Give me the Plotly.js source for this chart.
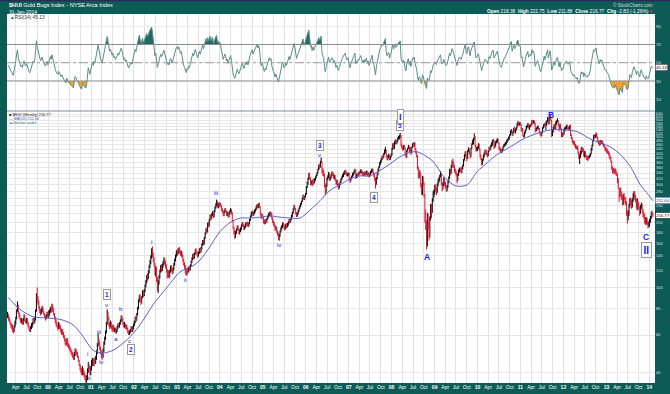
<!DOCTYPE html>
<html><head><meta charset="utf-8">
<script src="https://cdn.plot.ly/plotly-3.0.1.min.js"></script>
<style>html,body{margin:0;padding:0;background:#0d5b57;}#chart{width:670px;height:394px;}</style>
</head><body><div id="chart"></div>
<script>
// ---- data (weekly bars, Fridays from 22-Jan-1999 to 31-Jan-2014) ----
const firstWeek = '1999-01-22';
const weeklyClose = [
74,72,70,68,67,66,64,63,66,68,72,78,82,76,74,71,69,70,68,71,73,70,69,71,68,66,64,63,65,66,68,70,69,71,78,92,88,85,80,78,76,78,80,77,75,73,72,74,76,73,
75,77,80,78,82,79,76,72,70,68,66,65,67,66,64,62,63,61,59,57,56,55,57,54,53,52,51,50,49,48,47,49,51,50,49,48,46,44,42,41,40,42,40,39,38,37,38,41,44,42,40,42,
44,45,44,46,45,47,50,54,57,55,52,50,49,48,51,55,58,62,68,75,72,68,66,68,65,64,66,63,64,62,63,65,67,66,68,70,72,71,68,66,67,65,66,64,62,61,62,63,64,63,65,67,
69,72,71,75,80,86,90,88,85,90,95,92,96,101,105,112,110,118,125,130,138,146,142,134,128,118,123,110,100,106,112,118,125,121,126,131,135,130,126,120,114,117,113,119,124,121,117,122,128,134,140,146,
148,145,150,147,143,146,140,134,128,125,118,116,121,119,123,121,126,131,136,141,138,143,149,146,143,140,145,150,147,152,158,164,160,170,178,186,182,198,194,205,214,208,218,222,214,226,234,242,248,238,244,240,
245,238,230,226,218,224,230,226,218,222,214,220,226,230,222,205,190,182,176,180,186,192,186,180,184,188,194,198,195,188,192,198,195,200,194,198,206,214,220,224,218,222,226,230,236,240,236,242,238,220,212,216,214,
204,200,205,202,208,214,219,222,218,221,210,202,198,194,186,190,182,178,170,174,182,188,192,198,194,188,190,196,192,196,200,206,202,208,215,222,230,236,232,222,216,220,226,232,238,244,250,258,266,258,264,272,
292,305,320,335,322,305,310,300,315,308,318,325,332,340,352,368,362,384,392,350,345,335,300,280,296,320,326,340,318,324,332,340,336,325,330,318,305,312,302,292,300,310,318,325,332,338,345,348,340,332,336,338,
318,312,322,328,336,340,346,352,326,334,330,340,338,345,350,344,336,340,334,342,338,346,334,340,330,336,344,350,354,340,335,320,305,322,334,352,362,378,385,395,405,402,418,432,440,410,398,405,412,395,404,416,
440,462,448,472,480,470,478,492,500,505,510,460,448,440,452,445,418,405,432,440,455,430,445,420,448,462,458,468,440,425,410,360,330,345,340,300,280,320,305,270,210,200,160,215,195,182,210,240,225,255,272,280,
295,288,278,300,312,318,328,340,305,292,300,318,302,295,285,292,310,322,350,340,368,385,378,365,350,345,335,315,335,350,355,352,346,360,368,390,410,425,402,395,430,438,420,405,440,462,478,488,505,455,438,445,
448,462,440,410,398,375,392,410,418,432,426,418,412,430,445,438,455,468,478,482,455,462,475,480,488,470,445,440,432,428,438,452,458,462,470,478,485,490,498,510,530,535,512,525,545,535,542,550,575,585,570,580,573,
540,545,512,505,525,535,558,560,575,555,562,570,565,595,585,592,580,535,545,552,560,548,528,518,510,525,552,568,574,560,575,590,612,580,610,625,600,520,530,552,570,548,585,590,600,565,540,572,545,505,520,515,
540,548,555,565,550,545,555,560,510,498,480,470,475,460,452,445,450,425,405,410,428,445,432,438,412,425,410,400,398,405,402,410,418,440,455,480,505,500,508,518,498,480,470,462,480,472,478,465,458,450,438,440,
430,425,420,405,400,385,360,350,348,345,352,340,338,315,295,270,285,272,262,245,268,260,252,250,225,215,220,240,255,250,238,255,268,272,262,255,238,248,242,235,222,238,242,228,218,215,205,200,208,200,194,198,
205,212,222,219.6,216.77
];
const weeklyHigh = [
77,75,73,71,69,68,67,65,67,70,73,79,86,83,77,75,72,72,71,72,75,74,71,72,72,69,67,65,66,68,69,72,72,73,79,94,100,91,87,82,79,80,82,81,78,76,74,75,77,77,
78,79,81,82,84,83,80,76,73,71,69,67,69,68,67,65,64,64,62,60,58,57,58,58,55,54,53,52,51,50,49,50,52,52,51,50,48,46,44,43,42,43,42,41,40,39,39,42,45,44,43,43,
46,47,46,47,47,48,51,55,61,58,56,53,51,50,52,56,59,63,69,79,77,73,69,70,69,66,67,67,65,65,64,66,68,68,69,71,74,74,72,69,69,68,67,67,65,63,63,64,66,65,66,68,
70,73,74,76,81,88,92,93,90,91,97,97,98,103,108,114,116,120,127,134,141,152,155,145,138,130,126,124,112,108,114,121,127,128,129,133,138,137,133,128,122,120,119,121,126,127,123,124,130,136,142,148,
150,152,153,154,149,148,147,142,136,131,127,121,123,124,125,126,128,133,138,143,144,145,151,152,148,145,147,152,153,154,160,166,167,172,180,188,190,200,202,208,218,219,221,226,225,229,238,246,256,252,247,248,
248,247,240,233,228,226,233,234,228,225,224,223,229,234,231,224,206,192,185,183,188,194,195,189,186,190,196,201,201,197,194,200,201,202,202,200,208,216,224,227,228,225,230,233,239,244,244,246,248,238,222,219,219,
212,207,207,208,210,216,221,224,226,224,222,212,205,201,196,193,191,184,180,177,184,190,195,200,201,197,193,198,199,199,203,208,208,211,218,225,233,242,240,234,224,223,229,235,241,247,253,262,270,269,267,275,
296,310,324,340,342,325,315,314,318,320,322,328,336,344,356,372,375,388,402,385,360,352,338,305,300,324,332,344,342,328,336,346,345,340,334,332,320,316,315,305,303,313,321,328,336,342,348,352,352,344,340,342,
342,322,325,331,340,344,350,356,354,338,338,343,345,348,354,354,348,344,344,346,346,350,348,344,342,339,348,354,358,356,345,340,324,326,338,356,366,382,390,400,410,414,422,438,450,438,415,412,418,414,408,420,
446,468,470,478,488,486,484,498,506,512,522,512,466,455,458,460,448,422,436,446,460,456,450,446,452,468,470,474,472,444,430,412,365,350,352,342,305,330,328,308,272,230,205,222,220,205,214,244,245,260,280,285,
300,302,292,305,318,325,334,348,340,310,306,325,322,310,300,298,315,328,356,356,372,390,398,384,370,356,350,338,340,354,360,362,358,364,372,395,416,430,428,408,436,448,444,428,446,468,486,496,520,505,460,450,
452,468,466,442,415,400,396,414,424,436,438,434,422,434,450,452,460,472,484,490,485,468,480,486,494,492,472,452,446,440,442,456,464,468,474,482,490,496,504,515,536,545,538,530,552,560,548,556,580,594,590,586,588,
575,552,548,515,530,542,564,568,580,578,568,575,578,600,602,598,598,582,552,558,565,565,552,532,522,530,556,572,580,578,590,598,620,615,618,640,630,602,545,560,575,572,592,598,612,600,570,578,575,548,524,528,
548,556,560,570,572,558,560,568,572,515,500,485,480,478,465,458,456,452,428,418,432,450,450,446,440,430,430,415,408,410,410,414,422,445,460,485,512,515,514,525,520,502,484,478,485,484,482,482,470,462,452,446,
445,438,432,425,412,404,388,365,360,355,358,355,345,338,322,290,290,292,280,268,272,275,265,262,252,228,228,245,260,262,256,260,274,280,280,270,258,260,252,248,238,242,248,245,232,225,220,212,212,210,204,202,
208,215,225,228,222.75
];
const weeklyLow = [
72,70,69,67,65,64,62,61,62,65,67,71,77,75,72,70,68,68,67,67,70,69,68,68,67,65,63,62,62,64,65,67,68,68,70,77,85,83,79,76,74,75,77,76,74,72,70,71,73,72,
72,74,76,76,77,77,74,71,68,66,65,63,64,64,62,61,60,60,58,56,54,53,54,53,52,51,50,49,48,47,46,46,48,49,48,47,45,43,41,40,39,39,39,38,37,36,36,37,40,41,39,39,
41,43,43,43,44,44,46,49,53,54,51,49,47,46,47,50,54,57,61,67,70,66,64,65,64,62,63,62,62,61,61,62,64,65,65,67,69,69,67,65,65,64,64,63,61,60,60,61,62,62,62,64,
66,68,69,70,74,79,85,86,83,84,89,90,91,95,100,104,107,109,116,123,128,136,138,131,125,114,112,106,96,94,103,110,117,118,119,124,128,127,122,117,110,111,110,111,117,118,115,116,120,126,132,138,
140,142,143,144,140,139,137,131,126,122,115,113,114,117,117,119,120,125,130,134,135,136,142,143,140,137,139,143,144,145,150,156,157,158,168,176,179,180,190,192,204,205,208,214,210,212,224,232,238,234,233,236,
238,235,226,222,214,215,222,223,215,215,210,212,218,223,218,202,186,176,168,170,177,184,183,177,176,181,185,191,192,185,185,189,192,193,191,191,196,204,212,216,214,215,219,223,228,233,232,234,235,216,208,209,210,
198,196,197,199,200,206,211,214,215,213,207,199,194,190,183,184,179,174,166,165,172,180,185,189,191,185,184,187,189,190,193,198,199,200,206,212,220,228,229,218,212,213,218,224,230,236,242,249,256,254,255,262,
270,290,300,316,318,298,300,295,298,302,305,313,322,329,338,350,355,360,378,340,330,328,292,268,275,294,315,322,312,314,320,328,330,320,318,312,300,300,296,285,288,298,306,314,322,326,333,337,335,328,328,330,
314,306,310,318,326,330,336,342,320,322,324,328,332,334,340,338,330,330,328,330,332,334,328,330,324,326,332,340,343,334,326,312,288,300,318,332,348,360,372,380,390,395,400,414,420,402,390,390,400,390,392,402,
410,436,440,440,462,462,464,474,486,488,496,452,440,432,436,438,410,398,402,428,440,424,425,412,420,446,450,452,434,418,402,352,320,322,330,292,270,268,298,262,200,185,150,155,185,165,170,205,210,222,250,262,
270,280,268,275,295,305,312,325,298,280,285,296,296,288,278,280,290,305,320,332,338,360,370,358,342,336,328,305,312,330,342,344,338,340,354,365,388,405,396,385,395,425,414,396,404,440,460,462,484,448,428,430,
432,440,434,402,390,368,372,388,402,412,418,410,402,408,428,432,436,450,455,470,440,445,452,468,472,464,438,430,424,420,424,434,446,452,456,462,470,478,484,492,508,520,505,508,522,528,520,534,548,566,562,566,566,
532,530,505,495,500,518,532,548,555,548,540,555,558,565,575,578,572,525,530,535,545,540,520,508,500,505,522,548,560,552,540,565,585,570,575,605,592,500,505,525,545,540,545,570,585,558,532,540,538,498,500,505,
512,530,538,545,545,535,538,545,505,488,470,460,462,452,442,438,438,418,395,375,400,415,425,425,405,402,402,392,390,388,394,398,404,415,432,452,478,492,495,500,490,472,462,455,458,465,466,460,450,442,430,428,
420,418,412,398,392,380,352,338,340,335,340,332,330,305,288,250,262,265,255,240,242,255,245,240,215,198,205,215,235,242,232,235,250,260,255,248,232,228,236,228,215,220,232,222,212,208,198,195,196,195,188,190,
192,200,208,215,211.88
];
// 50-week moving average
const maDates = ['1999-01-25','1999-05-07','1999-08-26','1999-12-23','2000-04-12','2000-08-01','2000-10-25','2001-01-18','2001-04-13','2001-07-07','2001-11-03','2002-02-22','2002-06-12','2002-10-09','2003-01-28','2003-05-18','2003-07-17','2003-10-10','2004-01-03','2004-03-28','2004-06-22','2004-09-15','2004-12-09','2005-03-04','2005-05-28','2005-08-21','2005-11-14','2006-02-07','2006-05-03','2006-07-27','2006-10-20','2007-01-13','2007-04-08','2007-07-02','2007-09-25','2007-12-19','2008-03-13','2008-06-07','2008-08-05','2008-09-26','2008-12-19','2009-03-15','2009-06-08','2009-07-20','2009-10-05','2009-12-29','2010-03-24','2010-06-17','2010-10-06','2011-01-25','2011-05-23','2011-09-11','2011-12-30','2012-04-27','2012-08-16','2012-11-09','2013-02-03','2013-04-29','2013-07-23','2013-10-16','2013-12-23','2014-01-31'];
const maValues = [90,79,73,72,71,67,59,51,49.5,51,57,67,83,100,118,126,134,155,182,200,210,210,212,215,212,210,210,229,253,283,300,320,330,330,350,375,405,425,427,415,385,330,300,295,300,345,380,415,450,490,520,540,540,530,490,470,450,415,365,300,270,252.64];
const priceTicks = [40,60,80,100,120,140,160,180,200,220,240,260,280,300,320,340,360,380,400,420,440,460,480,500,520,540,560,580,600,620,640];
const rsiTicks = [10,30,50,70,90];
const quarterMonthLabels = ['Apr','Jul','Oct'];
// Elliott wave labels: [text, date, price]
const waveSmall = [['i','2000-11-30',49.4],['ii','2000-12-17',38.0],['iii','2001-03-13',62.2],['iv','2001-04-02',45.1],['v','2001-05-20',82.8],['a','2001-07-30',58.0],['b','2001-09-10',80.0],['c','2001-11-22',56.3],['i','2002-06-01',163],['ii','2003-03-17',109],['iii','2003-11-29',277],['iv','2005-05-19',159],['v','2006-05-03',413]];
const waveBoxed = [['1','2001-05-20',92.2],['2','2001-12-04',51.2],['3','2006-05-03',455],['4','2007-08-05',261],['5','2008-03-13',565],['II','2013-12-06',149]];
const waveBig = [['A','2008-10-27',138],['C','2013-12-06',172]];

// ---- derived ----
const n = Math.min(weeklyClose.length, weeklyHigh.length, weeklyLow.length);
const t0 = Date.UTC(1999,0,22);
const dates = [];
for (let i=0;i<n;i++) dates.push(new Date(t0 + i*7*86400000).toISOString().slice(0,10));

const upX=[],upY=[],dnX=[],dnY=[];
for (let i=0;i<n;i++){
  const up = i===0 || weeklyClose[i] >= weeklyClose[i-1];
  (up?upX:dnX).push(dates[i],dates[i],null);
  (up?upY:dnY).push(weeklyLow[i],weeklyHigh[i],null);
}
// RSI(14) of the weekly closes, Wilder smoothing, neutral seed
let s=0; for (let i=1;i<=14;i++) s+=Math.abs(weeklyClose[i]-weeklyClose[i-1]);
let ag=s/28, al=s/28;
const rsi=[null];
for (let i=1;i<n;i++){
  const ch=weeklyClose[i]-weeklyClose[i-1];
  ag=(ag*13+Math.max(ch,0))/14; al=(al*13+Math.max(-ch,0))/14;
  rsi.push(al===0?100:100-100/(1+ag/al));
}
const rsiHi = rsi.map(v=>v===null?null:Math.max(v,70));
const rsiLo = rsi.map(v=>v===null?null:Math.min(v,30));
const c70 = rsi.map(v=>v===null?null:70);
const c30 = rsi.map(v=>v===null?null:30);

const tickvals=[], ticktext=[];
for (let y=1999;y<=2014;y++){
  [1,4,7,10].forEach((m,k)=>{
    const d = `${y}-${String(m).padStart(2,'0')}-01`;
    if (d < '1999-01-17' || d > '2014-02-18') return;
    tickvals.push(d);
    ticktext.push(m===1 ? '<b>'+String(y).slice(2)+'</b>' : quarterMonthLabels[k-1]);
  });
}

const BLUE='#1a1cf0';
const traces = [
  {type:'scatter',mode:'lines',x:upX,y:upY,line:{color:'#000000',width:1},xaxis:'x',yaxis:'y',hoverinfo:'skip'},
  {type:'scatter',mode:'lines',x:dnX,y:dnY,line:{color:'#e5102c',width:1},xaxis:'x',yaxis:'y',hoverinfo:'skip'},
  {type:'scatter',mode:'lines',x:maDates,y:maValues,line:{color:'#5a5fcc',width:1,shape:'spline',smoothing:0.8},xaxis:'x',yaxis:'y',hoverinfo:'skip'},
  {type:'scatter',mode:'lines',x:dates,y:c70,line:{width:0},xaxis:'x2',yaxis:'y2',hoverinfo:'skip'},
  {type:'scatter',mode:'lines',x:dates,y:rsiHi,line:{width:0},fill:'tonexty',fillcolor:'#1f6a62',xaxis:'x2',yaxis:'y2',hoverinfo:'skip'},
  {type:'scatter',mode:'lines',x:dates,y:c30,line:{width:0},xaxis:'x2',yaxis:'y2',hoverinfo:'skip'},
  {type:'scatter',mode:'lines',x:dates,y:rsiLo,line:{width:0},fill:'tonexty',fillcolor:'#f2a22a',xaxis:'x2',yaxis:'y2',hoverinfo:'skip'},
  {type:'scatter',mode:'lines',x:dates,y:rsi,line:{color:'#5b8c87',width:1},xaxis:'x2',yaxis:'y2',hoverinfo:'skip'}
];

const D = 0.7371;
const py = Y => (383-Y)/369;
const ann = [];
const F = 'Liberation Sans, Arial, sans-serif';
ann.push({xref:'paper',yref:'paper',x:0,y:py(5.5),xanchor:'left',yanchor:'middle',showarrow:false,text:'<b>$HUI</b> Gold Bugs Index - NYSE Arca Index',font:{family:F,size:5.6,color:'#ffffff'}});
ann.push({xref:'paper',yref:'paper',x:0,y:py(11.6),xanchor:'left',yanchor:'middle',showarrow:false,text:'31-Jan-2014',font:{family:F,size:5,color:'#ffffff'}});
ann.push({xref:'paper',yref:'paper',x:1,y:py(5.5),xanchor:'right',yanchor:'middle',showarrow:false,text:'© StockCharts.com',font:{family:F,size:4.6,color:'#cfdcda'}});
ann.push({xref:'paper',yref:'paper',x:1,y:py(11.4),xanchor:'right',yanchor:'middle',showarrow:false,text:'<b>Open</b> 218.38  <b>High</b> 222.75  <b>Low</b> 211.88  <b>Close</b> 216.77  <b>Chg</b> -2.83 (-1.29%)<span style="color:#e8203a">▼</span>',font:{family:F,size:4.8,color:'#ffffff'}});
ann.push({xref:'paper',yref:'paper',x:0.002,y:py(17.5),xanchor:'left',yanchor:'middle',showarrow:false,text:'<span style="color:#1f6a62">▲</span>RSI(14) 45.13',font:{family:F,size:4.8,color:'#333333'}});
ann.push({xref:'paper',yref:'paper',x:0.002,y:py(114),xanchor:'left',yanchor:'middle',showarrow:false,borderpad:0,text:'■ $HUI (Weekly) 216.77',font:{family:F,size:3.9,color:'#222222'}});
ann.push({xref:'paper',yref:'paper',x:0.002,y:py(118.6),xanchor:'left',yanchor:'middle',showarrow:false,borderpad:0,text:'— MA(50) 252.64',font:{family:F,size:3.8,color:'#4d52c4'}});
ann.push({xref:'paper',yref:'paper',x:0.002,y:py(123.2),xanchor:'left',yanchor:'middle',showarrow:false,borderpad:0,text:'▲Volume undef',font:{family:F,size:3.8,color:'#2a8a55'}});
// value boxes on right axis
ann.push({xref:'paper',yref:'y2',x:1,y:45.13,xanchor:'left',yanchor:'middle',showarrow:false,text:'45.13',bgcolor:'#ffffff',bordercolor:'#444',borderwidth:0.6,borderpad:0.4,font:{family:F,size:4.3,color:'#000'}});
ann.push({xref:'paper',yref:'y',x:1,y:Math.log10(252.64),xanchor:'left',yanchor:'middle',showarrow:false,text:'252.64',bgcolor:'#ffffff',bordercolor:'#5a5fcc',borderwidth:0.6,borderpad:0.4,font:{family:F,size:4.3,color:'#3a3fa8'}});
ann.push({xref:'paper',yref:'y',x:1,y:Math.log10(216.77),xanchor:'left',yanchor:'middle',showarrow:false,text:'216.77',bgcolor:'#ffffff',bordercolor:'#000',borderwidth:0.6,borderpad:0.4,font:{family:F,size:4.3,color:'#000'}});
waveSmall.forEach(w=>ann.push({xref:'x',yref:'y',x:w[1],y:Math.log10(w[2]),showarrow:false,text:w[0],font:{family:F,size:6.2,color:BLUE}}));
waveBoxed.forEach(w=>{const big=w[0]==='II';ann.push({xref:'x',yref:'y',x:w[1],y:Math.log10(w[2]),showarrow:false,text:'<b>'+w[0]+'</b>',bgcolor:'#ffffff',bordercolor:'#9a9a9a',borderwidth:1,borderpad:big?1.5:1,font:{family:F,size:big?10:6.5,color:BLUE}});});
ann.push({xref:'x',yref:'paper',x:'2008-03-13',y:py(108.5),showarrow:false,text:'<b>I</b>',bgcolor:'#ffffff',bordercolor:'#9a9a9a',borderwidth:1,borderpad:1,font:{family:F,size:9.5,color:BLUE}});
waveBig.forEach(w=>ann.push({xref:'x',yref:'y',x:w[1],y:Math.log10(w[2]),showarrow:false,text:'<b>'+w[0]+'</b>',font:{family:F,size:8.5,color:BLUE}}));
ann.push({xref:'x',yref:'paper',x:'2011-09-19',y:py(108.3),showarrow:false,text:'<b>B</b>',font:{family:F,size:8.5,color:BLUE}});

const shapes = [
  {type:'line',xref:'paper',yref:'y2',x0:0,x1:1,y0:70,y1:70,line:{color:'#8c8c8c',width:1.2}},
  {type:'line',xref:'paper',yref:'y2',x0:0,x1:1,y0:30,y1:30,line:{color:'#8c8c8c',width:1.2}},
  {type:'line',xref:'paper',yref:'y2',x0:0,x1:1,y0:50,y1:50,line:{color:'#9a9a9a',width:1,dash:'dashdot'}},
  {type:'line',xref:'paper',yref:'paper',x0:0,x1:1,y0:D,y1:D,line:{color:'#7d88a6',width:1.2}},
  {type:'line',xref:'paper',yref:'paper',x0:-0.02,x1:1.03,y0:py(0.6),y1:py(0.6),line:{color:'#2b2a5c',width:1.5}}
];

const axGrid = '#e2e2e2';
const layout = {
  width:670,height:394,margin:{l:7,r:15,t:14,b:11,pad:0},
  paper_bgcolor:'#0d5b57',plot_bgcolor:'#ffffff',showlegend:false,hovermode:false,
  font:{family:F,size:5,color:'#ffffff'},
  xaxis:{type:'date',range:['1999-01-17','2014-02-18'],anchor:'y',tickmode:'array',tickvals:tickvals,ticktext:ticktext,tickfont:{family:F,size:5,color:'#ffffff'},showgrid:true,gridcolor:axGrid,gridwidth:1,zeroline:false,showline:false,ticks:'',ticklen:0,fixedrange:true},
  xaxis2:{type:'date',matches:'x',anchor:'y2',tickmode:'array',tickvals:tickvals,showticklabels:false,showgrid:true,gridcolor:axGrid,gridwidth:1,zeroline:false,showline:false,ticks:''},
  yaxis:{type:'log',domain:[0,D],range:[Math.log10(35.9),Math.log10(661)],side:'right',anchor:'x',tickmode:'array',tickvals:priceTicks,ticktext:priceTicks.map(String),tickfont:{family:F,size:4,color:'#d5e2e0'},showgrid:true,gridcolor:'#e6e6e6',gridwidth:1,zeroline:false,showline:false,ticks:'',ticklen:0},
  yaxis2:{domain:[D,1],range:[-2.9,103.4],side:'right',anchor:'x2',tickmode:'array',tickvals:rsiTicks,ticktext:rsiTicks.map(String),tickfont:{family:F,size:4.3,color:'#d5e2e0'},showgrid:true,gridcolor:'#ececec',gridwidth:1,zeroline:false,showline:false,ticks:'',ticklen:0},
  shapes:shapes,annotations:ann
};
Plotly.newPlot('chart',traces,layout,{displayModeBar:false,staticPlot:true});
</script>
</body></html>
